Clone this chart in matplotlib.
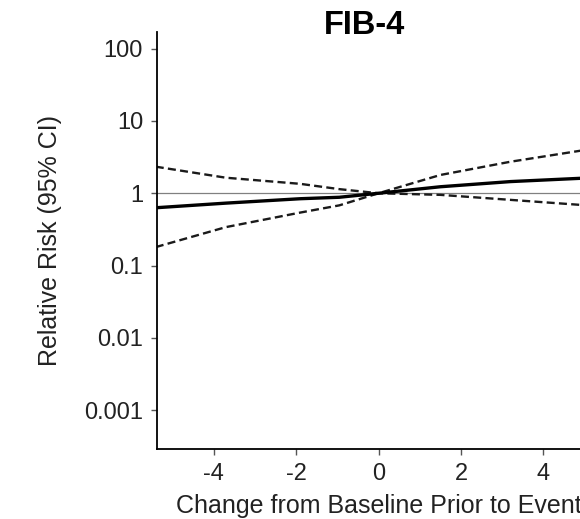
import matplotlib
matplotlib.use("Agg")
import matplotlib.pyplot as plt
import numpy as np

plt.rcParams['font.family'] = ['Liberation Sans', 'DejaVu Sans']

# Data
x_vals = [-5.4, -3.7, -1.9, -0.95, 0.0, 1.5, 3.2, 4.9, 5.4]
rr = [0.63, 0.73, 0.84, 0.88, 1.0, 1.23, 1.45, 1.61, 1.65]
ci_a = [2.33, 1.64, 1.35, 1.14, 1.0, 0.95, 0.81, 0.69, 0.67]
ci_b = [0.18, 0.34, 0.54, 0.68, 1.0, 1.79, 2.73, 3.88, 4.3]
x_ticks = [-4, -2, 0, 2, 4]
y_ticks = [100, 10, 1, 0.1, 0.01, 0.001]
y_ticklabels = ['100', '10', '1', '0.1', '0.01', '0.001']

fig = plt.figure(figsize=(5.8, 5.19), dpi=100)
ax = fig.add_axes([157/580, 1-449/519, (600-157)/580, (449-32)/519])

ax.axhline(1, color='#808080', lw=0.9, zorder=1)
ax.plot(x_vals, ci_a, color='#1a1a1a', lw=1.7, ls=(0, (3.4, 1.8)), zorder=2)
ax.plot(x_vals, ci_b, color='#1a1a1a', lw=1.7, ls=(0, (3.4, 1.8)), zorder=2)
ax.plot(x_vals, rr, color='black', lw=2.4, zorder=3)

ax.set_yscale('log')
ax.set_xlim(-5.37, 5.37)
ax.set_ylim(0.00029, 170)
ax.set_yticks(y_ticks)
ax.set_yticklabels(y_ticklabels)
ax.minorticks_off()
ax.set_xticks(x_ticks)
ax.set_xticklabels([str(t) for t in x_ticks])

for s in ['top', 'right']:
    ax.spines[s].set_visible(False)
for s in ['left', 'bottom']:
    ax.spines[s].set_linewidth(1.3)
ax.tick_params(axis='both', length=4, width=1, pad=6, labelsize=17, labelcolor='#222222', color='#555555')

ax.set_ylabel('Relative Risk (95% CI)', fontsize=18, color='#222222')
ax.yaxis.set_label_coords((62-157)/443, 0.5)
ax.set_xlabel('Change from Baseline Prior to Event', fontsize=18, color='#222222')
ax.xaxis.set_label_coords(0.5, (449-494)/417)
fig.text(364/580, 1-25/519, 'FIB-4', fontsize=23.5, fontweight='bold', ha='center', va='center')

fig.savefig('out.png', dpi=100)
